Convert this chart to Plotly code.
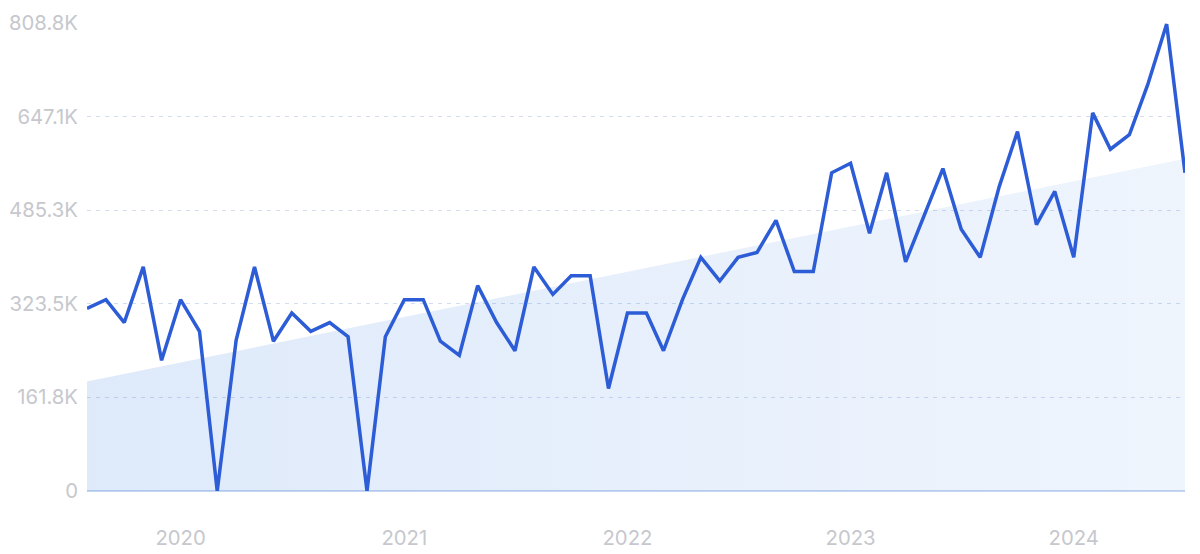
import plotly.graph_objects as go
import pandas as pd

months = pd.date_range("2019-08-01", "2024-07-01", freq="MS").strftime("%Y-%m-%d").tolist()

values = [
    315.5, 330.7, 291.1, 387.3, 225.9,           # Aug-Dec 2019
    330.7, 275.9, 0.0, 260.7, 387.3, 258.8,       # Jan-Jun 2020
    307.5, 275.9, 291.1, 266.7, 0.0, 266.7,       # Jul-Dec 2020
    330.7, 330.7, 258.8, 234.5, 355.0, 291.1,     # Jan-Jun 2021
    242.4, 387.3, 339.8, 372.1, 372.1, 177.2,     # Jul-Dec 2021
    307.5, 307.5, 242.4, 330.7, 403.8, 363.0,     # Jan-Jun 2022
    403.8, 412.3, 467.7, 379.4, 379.4, 549.9,     # Jul-Dec 2022
    566.4, 445.2, 549.9, 395.9, 475.6, 557.2,     # Jan-Jun 2023
    452.5, 403.8, 525.6, 621.2, 460.4, 517.7,     # Jul-Dec 2023
    403.8, 653.5, 590.7, 615.7, 702.2, 806.9,     # Jan-Jun 2024
    549.9,                                        # Jul 2024
]
values = [v * 1000 for v in values]

trend_start = 189.4e3
trend_end = 574.3e3
trend_x = [months[0], months[-1]]
trend_y = [trend_start, trend_end]

y_tickvals = [0, 161.8e3, 323.5e3, 485.3e3, 647.1e3, 808.8e3]
y_ticktext = ["0", "161.8K", "323.5K", "485.3K", "647.1K", "808.8K"]
x_tickvals = ["2020-01-01", "2021-01-01", "2022-01-01", "2023-01-01", "2024-01-01"]
x_ticktext = ["2020", "2021", "2022", "2023", "2024"]

fig = go.Figure()
fig.add_trace(go.Scatter(
    x=trend_x, y=trend_y, mode="lines", line=dict(width=0),
    fill="tozeroy",
    fillgradient=dict(type="horizontal",
                      colorscale=[[0, "rgba(28,108,222,0.145)"], [1, "rgba(28,108,222,0.07)"]]),
    hoverinfo="skip", showlegend=False,
))
fig.add_trace(go.Scatter(
    x=months, y=values, mode="lines",
    line=dict(color="#2c5cd6", width=3.5),
    showlegend=False,
))

# page body has an 8px margin, so the figure is sized to 1192x546
fig.update_layout(
    width=1192, height=546,
    margin=dict(l=79, r=15, t=15, b=63),
    paper_bgcolor="white", plot_bgcolor="white",
    font=dict(family="Inter, Open Sans, sans-serif", color="#c6c8cd", size=20.3),
)
fig.update_xaxes(
    range=[months[0], months[-1]],
    tickvals=x_tickvals, ticktext=x_ticktext,
    showgrid=False, zeroline=False, showline=False,
    ticks="", ticklabelstandoff=33, automargin=False,
)
fig.update_yaxes(
    range=[0, 808.8e3],
    tickvals=y_tickvals, ticktext=y_ticktext,
    showgrid=True, gridcolor="#d3ddef", griddash="4px,5px", gridwidth=1,
    zeroline=True, zerolinecolor="#c6d6f0", zerolinewidth=1.5,
    showline=False, ticks="", ticklabelstandoff=8, automargin=False,
)

fig.write_html("out.html")
